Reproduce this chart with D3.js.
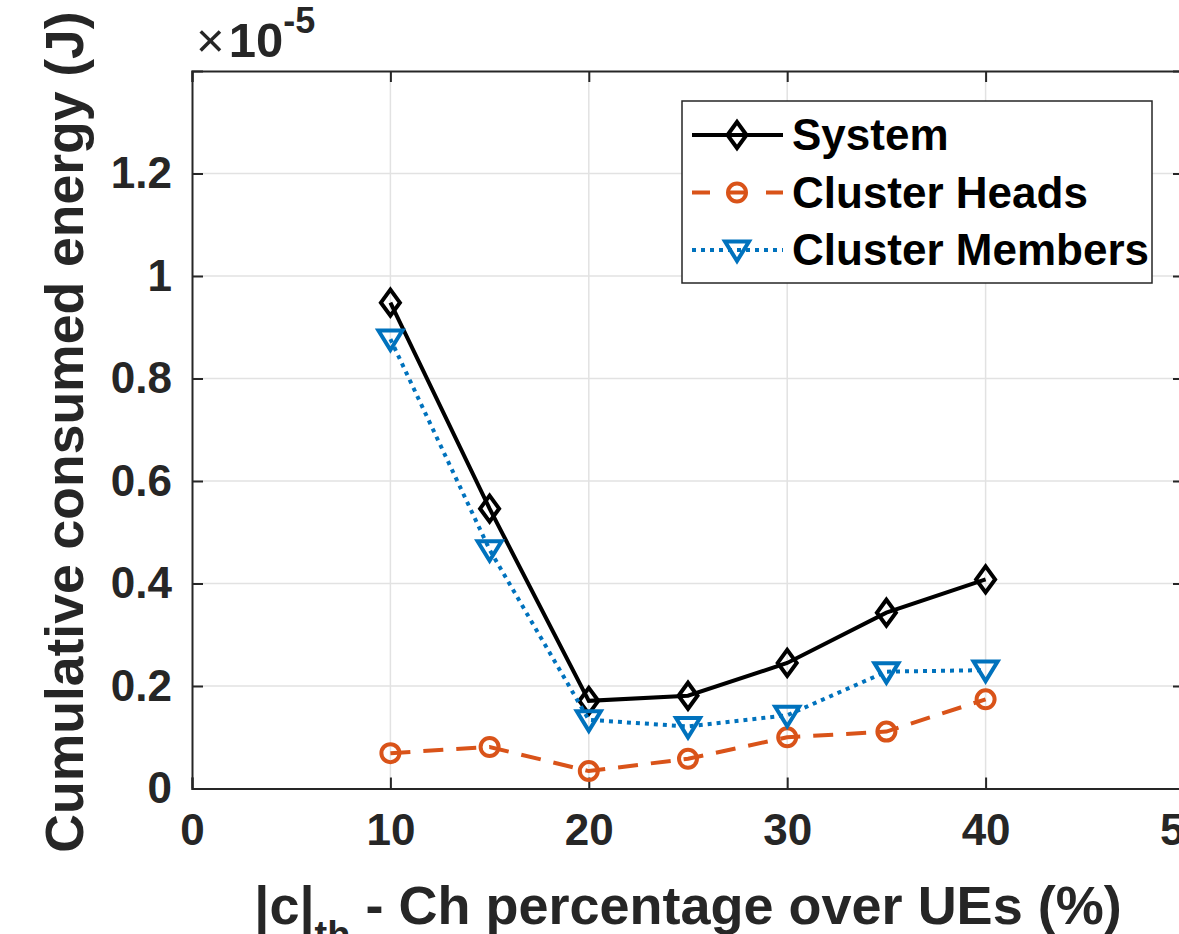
<!DOCTYPE html>
<html>
<head>
<meta charset="utf-8">
<script src="https://cdn.jsdelivr.net/npm/d3@7"></script>
<style>
	html, body { margin: 0; padding: 0; background: #fff; overflow: hidden; }
	svg { display: block; font-family: "Liberation Sans", Arial, Helvetica, sans-serif; font-weight: bold; }
</style>
</head>
<body>
<svg id="chart" width="1179" height="934"></svg>
<script>
var xValues = [10, 15, 20, 25, 30, 35, 40];
var systemEnergy = [0.948, 0.546, 0.171, 0.181, 0.245, 0.343, 0.408];
var clusterHeadsEnergy = [0.069, 0.081, 0.034, 0.058, 0.100, 0.111, 0.174];
var clusterMembersEnergy = [0.877, 0.466, 0.134, 0.121, 0.143, 0.228, 0.231];

var xTicks = [0, 10, 20, 30, 40, 50];
var yTicks = [0, 0.2, 0.4, 0.6, 0.8, 1, 1.2];
var seriesNames = ["System", "Cluster Heads", "Cluster Members"];

var axisColor = "#262626";
var gridColor = "#e2e2e2";

var svg = d3.select("#chart");

// axes box runs past the right edge of the window, like the original figure
var x = d3.scaleLinear().domain([0, 50]).range([192, 1184]);
var y = d3.scaleLinear().domain([0, 1.4]).range([788.5, 71]);

var series = [
	{ name: seriesNames[0], values: systemEnergy, color: "#000000", dash: null, marker: "diamond" },
	{ name: seriesNames[1], values: clusterHeadsEnergy, color: "#D95319", dash: "20,13", marker: "circle" },
	{ name: seriesNames[2], values: clusterMembersEnergy, color: "#0072BD", dash: "4,5", marker: "triangle" }
];

// grid
var grid = svg.append("g").attr("class", "grid");
grid.selectAll("line.gx")
	.data(xTicks.filter(function(d) { return d > 0 && d < 50; }))
	.enter().append("line")
	.attr("class", "gx")
	.attr("x1", function(d) { return x(d); })
	.attr("x2", function(d) { return x(d); })
	.attr("y1", y(0))
	.attr("y2", y(1.4))
	.style("stroke", gridColor)
	.style("stroke-width", 1.5);
grid.selectAll("line.gy")
	.data(yTicks.filter(function(d) { return d > 0; }))
	.enter().append("line")
	.attr("class", "gy")
	.attr("x1", x(0))
	.attr("x2", x(50))
	.attr("y1", function(d) { return y(d); })
	.attr("y2", function(d) { return y(d); })
	.style("stroke", gridColor)
	.style("stroke-width", 1.5);

// axes (ticks point inward)
var bottomAxis = d3.axisBottom(x).tickValues(xTicks).tickSize(-11).tickPadding(25).tickFormat(d3.format("d"));
var topAxis = d3.axisTop(x).tickValues(xTicks).tickSize(-11).tickFormat("");
var leftAxis = d3.axisLeft(y).tickValues(yTicks).tickSize(-11).tickPadding(20).tickFormat(function(d) { return d === 0 || d === 1 ? d3.format("d")(d) : d3.format(".1f")(d); });
var rightAxis = d3.axisRight(y).tickValues(yTicks).tickSize(-11).tickFormat("");

function styleAxis(g) {
	g.select(".domain").style("stroke", axisColor).style("stroke-width", 2);
	g.selectAll(".tick line").style("stroke", axisColor).style("stroke-width", 2);
	g.selectAll(".tick text")
		.style("fill", axisColor)
		.style("font-size", "44px")
		.style("font-family", "'Liberation Sans', Arial, sans-serif")
		.style("font-weight", "bold");
}

svg.append("g").attr("transform", "translate(0," + y(0) + ")").call(bottomAxis).call(styleAxis);
svg.append("g").attr("transform", "translate(0," + y(1.4) + ")").call(topAxis).call(styleAxis);
svg.append("g").attr("transform", "translate(" + x(0) + ",0)").call(leftAxis).call(styleAxis);
svg.append("g").attr("transform", "translate(" + x(50) + ",0)").call(rightAxis).call(styleAxis);

// markers
function markerPath(type) {
	if (type === "diamond") {
		return "M0,-13L9.5,0L0,13L-9.5,0Z";
	} else if (type === "triangle") {
		return "M-12,-8.5L12,-8.5L0,11Z";
	}
	return d3.symbol().type(d3.symbolCircle).size(Math.PI * 9 * 9)();
}

var line = d3.line()
	.x(function(d) { return x(d.x); })
	.y(function(d) { return y(d.y); });

var plot = svg.append("g").attr("class", "series");
series.forEach(function(s) {
	var pts = xValues.map(function(v, i) { return { x: v, y: s.values[i] }; });
	plot.append("path")
		.datum(pts)
		.attr("d", line)
		.style("fill", "none")
		.style("stroke", s.color)
		.style("stroke-width", 4)
		.style("stroke-dasharray", s.dash);
	plot.selectAll("path.m-" + s.marker)
		.data(pts)
		.enter().append("path")
		.attr("class", "m-" + s.marker)
		.attr("d", markerPath(s.marker))
		.attr("transform", function(d) { return "translate(" + x(d.x) + "," + y(d.y) + ")"; })
		.style("fill", "none")
		.style("stroke", s.color)
		.style("stroke-width", 4);
});

// exponent label
var expo = svg.append("text")
	.attr("x", 196)
	.attr("y", 57)
	.style("fill", axisColor)
	.style("font-size", "49px");
expo.append("tspan").style("font-weight", "normal").text("\u00d7");
expo.append("tspan").attr("dx", 4).text("10");
expo.append("tspan").attr("dy", -24).style("font-size", "36px").text("-5");

// axis labels
svg.append("text")
	.attr("transform", "translate(83,432) rotate(-90)")
	.attr("text-anchor", "middle")
	.style("fill", axisColor)
	.style("font-size", "53.5px")
	.text("Cumulative consumed energy (J)");

var xl = svg.append("text")
	.attr("x", (x(0) + x(50)) / 2)
	.attr("y", 924)
	.attr("text-anchor", "middle")
	.style("fill", axisColor)
	.style("font-size", "54px");
xl.append("tspan").text("|c|");
xl.append("tspan").attr("dy", 24).style("font-size", "38px").text("th");
xl.append("tspan").attr("dy", -24).text(" - Ch percentage over UEs (%)");

// legend
var legend = svg.append("g").attr("transform", "translate(682,101)");
legend.append("rect")
	.attr("width", 470)
	.attr("height", 182)
	.style("fill", "#fff")
	.style("stroke", axisColor)
	.style("stroke-width", 1.5);

var rows = legend.selectAll("g.row")
	.data(series)
	.enter().append("g")
	.attr("class", "row")
	.attr("transform", function(d, i) { return "translate(0," + (34 + i * 57.5) + ")"; });

rows.append("line")
	.attr("x1", 10)
	.attr("x2", 101)
	.style("stroke", function(d) { return d.color; })
	.style("stroke-width", 4)
	.style("stroke-dasharray", function(d) { return d.dash === "20,13" ? "18,19" : d.dash; });

rows.append("path")
	.attr("d", function(d) { return markerPath(d.marker); })
	.attr("transform", "translate(55,0)")
	.style("fill", "none")
	.style("stroke", function(d) { return d.color; })
	.style("stroke-width", 4);

rows.append("text")
	.attr("x", 110)
	.attr("dy", "0.35em")
	.style("fill", "#000")
	.style("font-size", "44px")
	.text(function(d) { return d.name; });
</script>
</body>
</html>
